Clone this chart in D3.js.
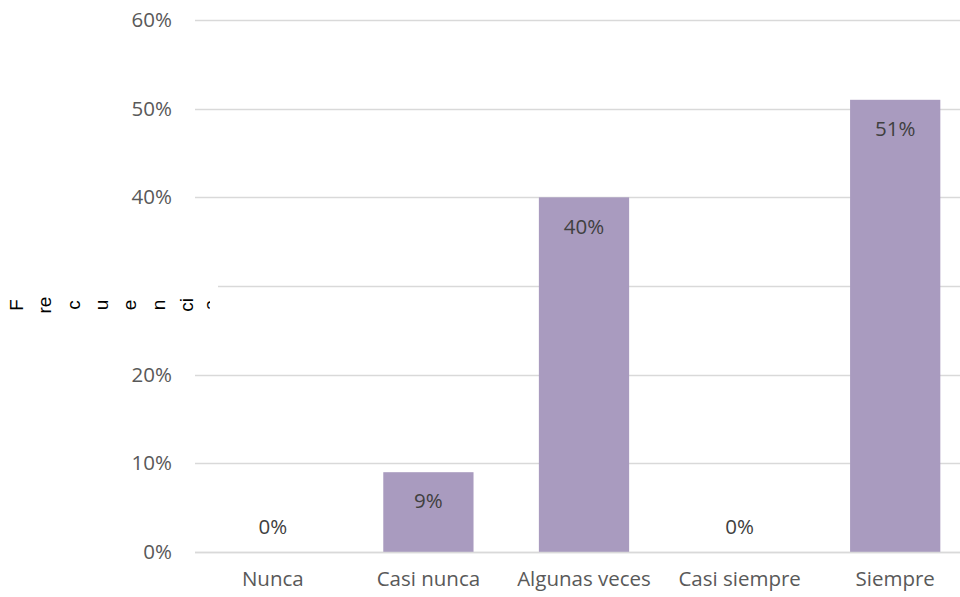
<!DOCTYPE html>
<html>
<head>
<meta charset="utf-8">
<script src="https://cdn.jsdelivr.net/npm/d3@7/dist/d3.min.js"></script>
<style>
html,body{margin:0;padding:0;background:#fff;}
svg{display:block;font-family:"Open Sans",sans-serif;}
</style>
</head>
<body>
<svg id="chart" width="960" height="597"></svg>
<script>
const categories = ["Nunca", "Casi nunca", "Algunas veces", "Casi siempre", "Siempre"];
const values = [0, 9, 40, 0, 51];
const tickValues = [0, 10, 20, 30, 40, 50, 60];
const hiddenTick = 30;
const yLabelChunks = ["F", "re", "c", "u", "e", "n", "ci", "a"];

(function () {
const W = 960, H = 597;
const mLeft = 195, mRight = 973, mTop = 20, mBottom = 552;
const svg = d3.select("#chart");
const textColor = "#595959";
const barColor = "#A99BBF";
const gridColor = "#D9D9D9";
const FONT = '"Open Sans","Noto Sans",sans-serif';
const FS = "20.5px";

const x = d3.scaleBand().domain(categories).range([mLeft, mRight]).paddingInner(0.42).paddingOuter(0.21);
const y = d3.scaleLinear().domain([0, 60]).range([mBottom, mTop]);

// gridlines
svg.append("g").selectAll("line").data(tickValues).join("line")
  .attr("x1", mLeft).attr("x2", W)
  .attr("y1", d => Math.round(y(d)) + 0.5).attr("y2", d => Math.round(y(d)) + 0.5)
  .attr("stroke", gridColor).attr("stroke-width", 1.3);

// y axis labels
const yAxis = d3.axisLeft(y).tickValues(tickValues).tickSize(0).tickPadding(23).tickFormat(d => d + "%");
const ga = svg.append("g").attr("transform", `translate(${mLeft},0)`).call(yAxis);
ga.select(".domain").remove();
ga.attr("font-size", null).attr("font-family", null);
ga.selectAll("text").attr("fill", textColor).style("font-size", FS).style("font-family", FONT);

// bars
svg.append("g").selectAll("rect").data(values).join("rect")
  .attr("x", (d, i) => x(categories[i]))
  .attr("width", x.bandwidth())
  .attr("y", d => y(d))
  .attr("height", d => y(0) - y(d))
  .attr("fill", barColor);

// data labels
svg.append("g").selectAll("text").data(values).join("text")
  .attr("x", (d, i) => x(categories[i]) + x.bandwidth() / 2)
  .attr("y", d => d === 0 ? y(0) - 25 : y(d) + 29)
  .attr("dy", "0.35em")
  .attr("text-anchor", "middle")
  .attr("fill", "#404040")
  .style("font-size", FS).style("font-family", FONT)
  .text(d => d + "%");

// baseline
svg.append("line").attr("x1", mLeft).attr("x2", W)
  .attr("y1", Math.round(y(0)) + 0.5).attr("y2", Math.round(y(0)) + 0.5)
  .attr("stroke", gridColor).attr("stroke-width", 1.3);

// x axis labels
const xAxis = d3.axisBottom(x).tickSize(0).tickPadding(19);
const gx = svg.append("g").attr("transform", `translate(0,${mBottom})`).call(xAxis);
gx.select(".domain").remove();
gx.attr("font-size", null).attr("font-family", null);
gx.selectAll("text").attr("fill", textColor).style("font-size", FS).style("font-family", FONT);

// y axis title box (covers the hidden tick)
svg.append("rect").attr("x", 0).attr("y", y(hiddenTick) - 12).attr("width", 218).attr("height", 48).attr("fill", "#fff");

const clip = svg.append("defs").append("clipPath").attr("id", "ylabclip");
clip.append("rect").attr("x", 0).attr("y", 0).attr("width", 210).attr("height", H);

const gl = svg.append("g").attr("clip-path", "url(#ylabclip)");
gl.selectAll("text").data(yLabelChunks).join("text")
  .attr("transform", (d, i) => `translate(${i < 7 ? 23 + i * 28.3 : 217},305) rotate(-90)`)
  .attr("text-anchor", "middle")
  .attr("fill", "#000")
  .style("font-size", "19px")
  .style("font-family", '"Liberation Sans",Arial,sans-serif')
  .text(d => d);
})();
</script>
</body>
</html>
